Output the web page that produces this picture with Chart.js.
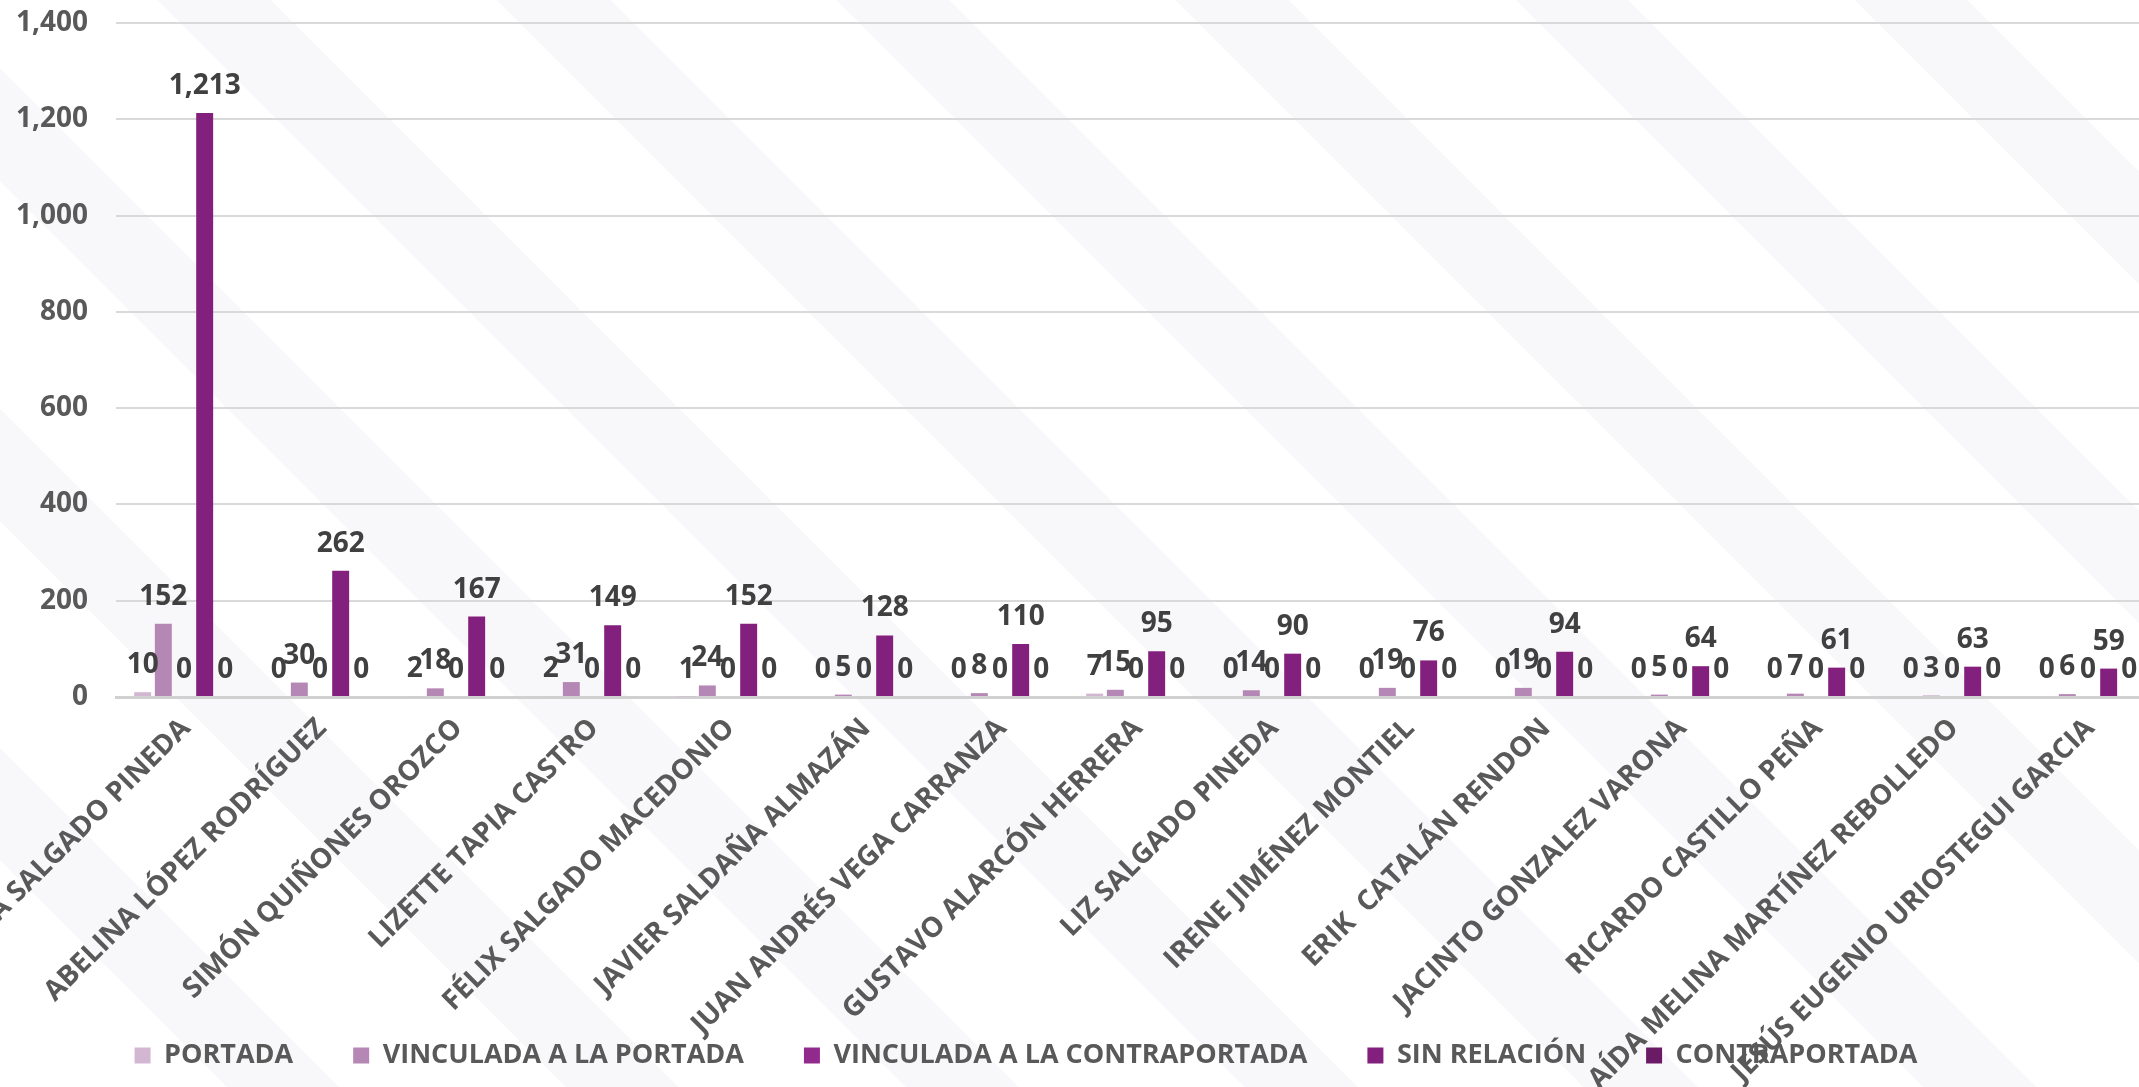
<!DOCTYPE html>
<html>
<head>
<meta charset="utf-8">
<script src="https://cdn.jsdelivr.net/npm/chart.js@4.4.1/dist/chart.umd.min.js"></script>
<style>
	html, body {
		margin: 0;
		padding: 0;
		width: 2139px;
		height: 1087px;
		overflow: hidden;
		background-color: #ffffff;
		background-image: repeating-linear-gradient(45deg, #ffffff 0 160px, #f8f8fa 160px 240px);
	}
	#box {
		position: absolute;
		left: -120px;
		top: 0;
		width: 2286px;
		height: 1087px;
	}
</style>
</head>
<body>
<div id="box"><canvas id="barChart"></canvas></div>
<script>
const names = [
	'A SALGADO PINEDA',
	'ABELINA LÓPEZ RODRÍGUEZ',
	'SIMÓN QUIÑONES OROZCO',
	'LIZETTE TAPIA CASTRO',
	'FÉLIX SALGADO MACEDONIO',
	'JAVIER SALDAÑA ALMAZÁN',
	'JUAN ANDRÉS VEGA CARRANZA',
	'GUSTAVO ALARCÓN HERRERA',
	'LIZ SALGADO PINEDA',
	'IRENE JIMÉNEZ MONTIEL',
	'ERIK  CATALÁN RENDON',
	'JACINTO GONZALEZ VARONA',
	'RICARDO CASTILLO PEÑA',
	'AÍDA MELINA MARTÍNEZ REBOLLEDO',
	'JESÚS EUGENIO URIOSTEGUI GARCIA',
];

const portada = [10, 0, 2, 2, 1, 0, 0, 7, 0, 0, 0, 0, 0, 0, 0];
const vinculadaPortada = [152, 30, 18, 31, 24, 5, 8, 15, 14, 19, 19, 5, 7, 3, 6];
const vinculadaContraportada = [0, 0, 0, 0, 0, 0, 0, 0, 0, 0, 0, 0, 0, 0, 0];
const sinRelacion = [1213, 262, 167, 149, 152, 128, 110, 95, 90, 76, 94, 64, 61, 63, 59];
const contraportada = [0, 0, 0, 0, 0, 0, 0, 0, 0, 0, 0, 0, 0, 0, 0];

const yTicks = [0, 200, 400, 600, 800, 1000, 1200, 1400];

const textGrey = '#595959';

// etiquetas de valor encima de cada barra
const valueLabels = {
	id: 'valueLabels',
	afterDatasetsDraw(chart) {
		const ctx = chart.ctx;
		ctx.save();
		ctx.font = 'bold 28px "Open Sans"';
		ctx.fillStyle = '#404040';
		ctx.textAlign = 'center';
		ctx.textBaseline = 'alphabetic';
		chart.data.datasets.forEach((ds, i) => {
			chart.getDatasetMeta(i).data.forEach((bar, j) => {
				ctx.fillText(ds.data[j].toLocaleString('en-US'), bar.x, bar.y - 19);
			});
		});
		ctx.restore();
	},
};

const dataset = (label, data, color) => ({
	label,
	data,
	backgroundColor: color,
	borderWidth: 0,
	barPercentage: 0.82,
	categoryPercentage: 0.76,
});

new Chart(document.getElementById('barChart'), {
	type: 'bar',
	data: {
		labels: names,
		datasets: [
			dataset('PORTADA', portada, '#d3b6d2'),
			dataset('VINCULADA A LA PORTADA', vinculadaPortada, '#b587b4'),
			dataset('VINCULADA A LA CONTRAPORTADA', vinculadaContraportada, '#922a8e'),
			dataset('SIN RELACIÓN', sinRelacion, '#831f7d'),
			dataset('CONTRAPORTADA', contraportada, '#6b1b65'),
		],
	},
	options: {
		responsive: true,
		maintainAspectRatio: false,
		animation: false,
		devicePixelRatio: 1,
		layout: {
			padding: { left: 16, right: 10, top: 23, bottom: 8 },
		},
		plugins: {
			tooltip: { enabled: false },
			legend: {
				position: 'bottom',
				labels: {
					color: textGrey,
					font: { family: 'Open Sans', size: 27, weight: 'bold' },
					boxWidth: 16,
					boxHeight: 16,
					padding: 60,
				},
			},
		},
		scales: {
			x: {
				grid: { display: false, drawTicks: false },
				border: { display: true, color: '#d0d0d0', width: 3 },
				ticks: {
					autoSkip: false,
					minRotation: 45,
					maxRotation: 45,
					labelOffset: 2,
					padding: 15,
					color: textGrey,
					font: { family: 'Open Sans', size: 28, weight: 'bold' },
				},
				afterFit(scale) {
					scale.height = 285;
					scale.paddingLeft = 0;
					scale.paddingRight = 0;
					// los nombres largos se meten en la leyenda, como en el original
					scale._computeLabelArea = () => undefined;
				},
			},
			y: {
				min: 0,
				max: 1400,
				afterBuildTicks(scale) {
					scale.ticks = yTicks.map((v) => ({ value: v }));
				},
				grid: { color: '#d9d9d9', lineWidth: 2, drawTicks: false },
				border: { display: false },
				ticks: {
					padding: 28,
					color: textGrey,
					font: { family: 'Open Sans', size: 28, weight: 'bold' },
					callback: (v) => v.toLocaleString('en-US'),
				},
				afterFit(scale) {
					scale.width = 220;
					scale.paddingTop = 0;
				},
			},
		},
	},
	plugins: [valueLabels],
});
</script>
</body>
</html>
